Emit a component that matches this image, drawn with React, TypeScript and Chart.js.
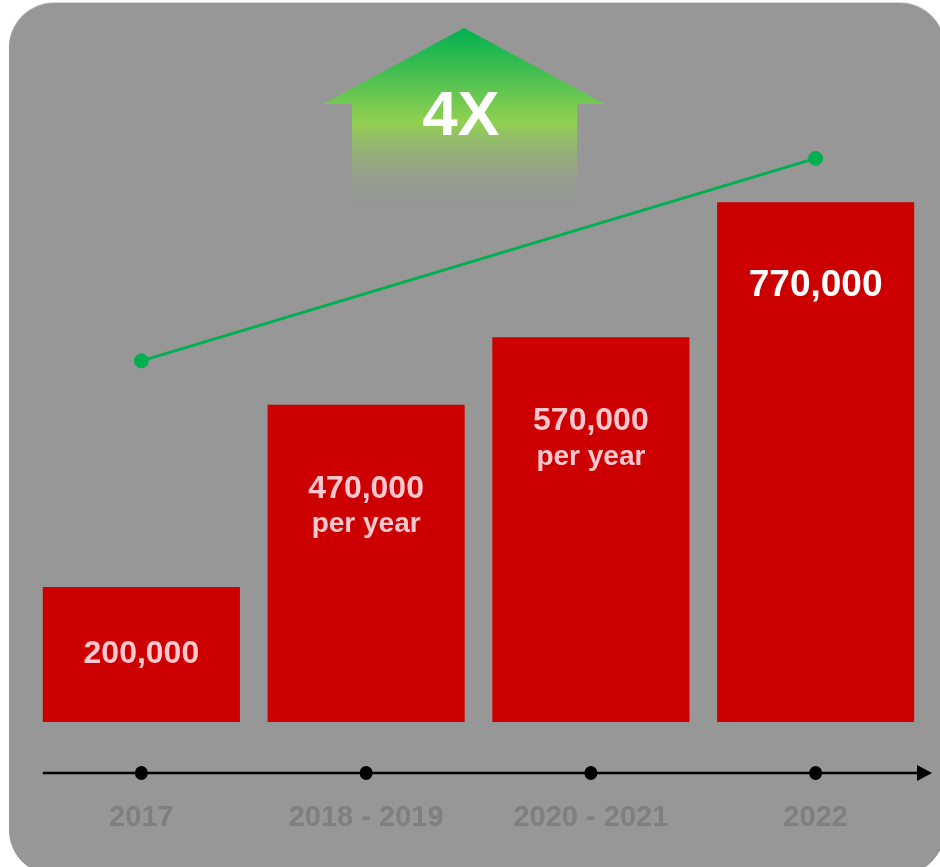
import React, { useEffect, useRef } from 'react';
import { Chart, registerables } from 'chart.js';

Chart.register(...registerables);

// ---- data ----
const categories = ['2017', '2018 - 2019', '2020 - 2021', '2022'];
const barValues = [200000, 470000, 570000, 770000];
const barLabelLines = [['200,000'], ['470,000', 'per year'], ['570,000', 'per year'], ['770,000']];
const trendValues: (number | null)[] = [535000, null, null, 835000];
const multiplierText = '4X';
const yMax = 1000000;

// ---- styles ----
const FONT = '"Liberation Sans", Arial, Helvetica, sans-serif';
const BAR_COLOR = '#CC0000';
const GREEN = '#00B050';
const LABEL_COLORS = ['#FFC7CE', '#FFC7CE', '#FFC7CE', '#FFFFFF'];
const LABEL_SIZES = [32, 32, 32, 37];

const arrowPlugin = {
  id: 'growthArrow',
  beforeDatasetsDraw(chart: any) {
    const ctx = chart.ctx;
    ctx.save();
    const tipX = 464, tipY = 28, wingY = 104, wingL = 323, wingR = 605, shaftL = 352, shaftR = 577, bottom = 206;
    const g = ctx.createLinearGradient(0, tipY, 0, bottom);
    g.addColorStop(0, '#00B050');
    g.addColorStop(0.53, '#92D050');
    g.addColorStop(1, 'rgba(146,160,140,0)');
    ctx.fillStyle = g;
    ctx.beginPath();
    ctx.moveTo(tipX, tipY);
    ctx.lineTo(wingR, wingY);
    ctx.lineTo(shaftR, wingY);
    ctx.lineTo(shaftR, bottom);
    ctx.lineTo(shaftL, bottom);
    ctx.lineTo(shaftL, wingY);
    ctx.lineTo(wingL, wingY);
    ctx.closePath();
    ctx.fill();
    ctx.fillStyle = '#FFFFFF';
    ctx.font = `bold 63px ${FONT}`;
    ctx.textAlign = 'center';
    ctx.textBaseline = 'middle';
    ctx.fillText(multiplierText, 461, 118);
    ctx.restore();
  },
};

const barLabelPlugin = {
  id: 'barLabels',
  afterDatasetsDraw(chart: any) {
    const ctx = chart.ctx;
    const meta = chart.getDatasetMeta(0);
    ctx.save();
    ctx.textAlign = 'center';
    ctx.textBaseline = 'middle';
    meta.data.forEach((el: any, i: number) => {
      const top = el.y;
      const base = el.base;
      const cy = Math.min(top + 84, (top + base) / 2);
      const lines = barLabelLines[i];
      ctx.fillStyle = LABEL_COLORS[i];
      ctx.font = `bold ${LABEL_SIZES[i]}px ${FONT}`;
      ctx.fillText(lines[0], el.x, cy);
      if (lines[1]) {
        ctx.font = `bold 28px ${FONT}`;
        ctx.fillText(lines[1], el.x, cy + 36);
      }
    });
    ctx.restore();
  },
};

const timelinePlugin = {
  id: 'timeline',
  afterDraw(chart: any) {
    const ctx = chart.ctx;
    const area = chart.chartArea;
    const xScale = chart.scales.x;
    const meta = chart.getDatasetMeta(0);
    const first = meta.data[0];
    const y = area.bottom + 51;
    const startX = first.x - first.width / 2;
    const endX = area.right + 4;
    ctx.save();
    ctx.strokeStyle = '#000';
    ctx.fillStyle = '#000';
    ctx.lineWidth = 2.5;
    ctx.beginPath();
    ctx.moveTo(startX, y);
    ctx.lineTo(endX - 10, y);
    ctx.stroke();
    ctx.beginPath();
    ctx.moveTo(endX, y);
    ctx.lineTo(endX - 15, y - 8);
    ctx.lineTo(endX - 15, y + 8);
    ctx.closePath();
    ctx.fill();
    categories.forEach((_, i) => {
      const x = xScale.getPixelForValue(i);
      ctx.beginPath();
      ctx.ellipse(x, y, 6.5, 7, 0, 0, Math.PI * 2);
      ctx.fill();
    });
    ctx.restore();
  },
};

export default function App() {
  const canvasRef = useRef<HTMLCanvasElement | null>(null);

  useEffect(() => {
    if (!canvasRef.current) return;
    const chart = new Chart(canvasRef.current, {
      type: 'bar',
      data: {
        labels: categories,
        datasets: [
          {
            type: 'bar',
            data: barValues,
            backgroundColor: BAR_COLOR,
            borderWidth: 0,
            barPercentage: 1,
            categoryPercentage: 0.877,
            order: 2,
          },
          {
            type: 'line',
            data: trendValues,
            borderColor: GREEN,
            backgroundColor: GREEN,
            borderWidth: 3,
            pointRadius: 7,
            pointBorderWidth: 1,
            pointBackgroundColor: GREEN,
            pointBorderColor: GREEN,
            spanGaps: true,
            order: 1,
          } as any,
        ],
      },
      options: {
        responsive: false,
        animation: false,
        layout: { padding: { left: 29, right: 12, top: 47, bottom: 31 } },
        plugins: { legend: { display: false }, tooltip: { enabled: false } },
        scales: {
          x: {
            grid: { display: false, drawTicks: false },
            border: { display: false },
            afterFit: (scale: any) => {
              scale.height = 114;
            },
            ticks: {
              padding: 79,
              color: '#7F7F7F',
              font: { family: FONT, size: 29, weight: 'bold' },
              maxRotation: 0,
              autoSkip: false,
            },
          },
          y: {
            display: false,
            min: 0,
            max: yMax,
          },
        },
      },
      plugins: [arrowPlugin, barLabelPlugin, timelinePlugin],
    });
    return () => chart.destroy();
  }, []);

  return (
    <div style={{ position: 'absolute', left: 0, top: 0, width: 940, height: 867, overflow: 'hidden', background: '#fff' }}>
      <div
        style={{
          position: 'absolute',
          left: 9,
          top: 3,
          width: 936,
          height: 872,
          borderRadius: 45,
          background: '#979797',
          boxShadow: '0 -1px 0 #d8d8d8',
        }}
      />
      <canvas ref={canvasRef} width={940} height={867} style={{ position: 'absolute', left: 0, top: 0 }} />
    </div>
  );
}
